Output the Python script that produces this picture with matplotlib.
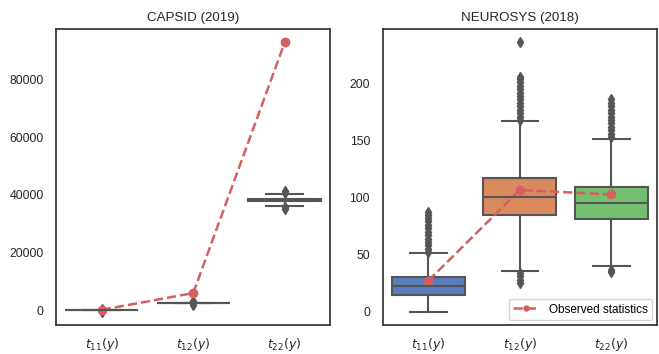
import colorsys
import numpy as np
import matplotlib
matplotlib.use("Agg")
import matplotlib.pyplot as plt
from matplotlib.colors import to_rgb

plt.rcParams['font.family'] = ['Liberation Sans', 'DejaVu Sans']

labels = [r'$t_{11}(y)$', r'$t_{12}(y)$', r'$t_{22}(y)$']
box_colors = ['#4878D0', '#EE854A', '#6ACC64']
obs_color = '#D65F5F'
line_gray = '#555555'

# CAPSID (2019) box summaries
capsid_q1 = [0, 2350, 37800]
capsid_med = [0, 2450, 38200]
capsid_q3 = [100, 2550, 38600]
capsid_lo = [0, 2300, 36200]
capsid_hi = [200, 2600, 40400]
capsid_fliers = [[-500, 0, 500],
                 [1800, 2500, 3200],
                 [35000, 35600, 40700, 41200]]
capsid_obs = [100, 5900, 92800]

# NEUROSYS (2018) box summaries
neuro_q1 = [14.6, 84.6, 81.3]
neuro_med = [22, 100.7, 94.8]
neuro_q3 = [30, 117.4, 109.3]
neuro_lo = [0, 35.8, 39.9]
neuro_hi = [51, 166.8, 151.5]
neuro_fliers = [[52, 55, 58, 61, 64, 67, 70, 73, 76, 79, 82, 85, 87],
                [25, 28, 31, 34, 168, 171, 174, 177, 180, 183, 186, 189,
                 192, 195, 198, 201, 204, 206, 236],
                [35, 36, 153, 156, 159, 162, 165, 168, 171, 174, 177, 180,
                 183, 186]]
neuro_obs = [27, 106.6, 102.7]


def desat(c, prop=0.75):
    h, l, s = colorsys.rgb_to_hls(*to_rgb(c))
    return colorsys.hls_to_rgb(h, l, s * prop)


def draw(ax, q1, med, q3, lo, hi, fliers, obs, title, legend=False):
    stats = []
    for i in range(3):
        stats.append(dict(q1=q1[i], med=med[i], q3=q3[i], whislo=lo[i],
                          whishi=hi[i], fliers=fliers[i]))
    bp = ax.bxp(stats, positions=range(3), widths=0.8, patch_artist=True,
                showfliers=True,
                boxprops=dict(edgecolor=line_gray, linewidth=1.5),
                medianprops=dict(color=line_gray, linewidth=1.5),
                whiskerprops=dict(color=line_gray, linewidth=1.5),
                capprops=dict(color=line_gray, linewidth=1.5),
                flierprops=dict(marker='d', markersize=5,
                                markerfacecolor=line_gray,
                                markeredgecolor=line_gray))
    for patch, c in zip(bp['boxes'], box_colors):
        patch.set_facecolor(desat(c))
    for cap in bp['caps']:
        x = cap.get_xdata()
        m = x.mean()
        cap.set_xdata([m - 0.2, m + 0.2])
    ax.plot(range(3), obs, '--o', color=obs_color, lw=1.8, ms=6,
            label='Observed statistics')
    ax.set_xlim(-0.5, 2.5)
    ax.set_xticks(range(3))
    ax.set_xticklabels(labels, fontsize=9)
    ax.tick_params(axis='y', labelsize=8.8, length=0, pad=9, colors='#262626')
    ax.tick_params(axis='x', length=0, pad=8, colors='#262626')
    ax.set_title(title, fontsize=9.6, color='#262626')
    for s in ax.spines.values():
        s.set_color('#333333')
        s.set_linewidth(1.25)
    if legend:
        leg = ax.legend(loc='lower right', fontsize=8.5, markerscale=0.6,
                        handlelength=2.2, borderaxespad=0.4)
        leg.get_frame().set_edgecolor('#cccccc')


fig, (ax1, ax2) = plt.subplots(1, 2, figsize=(6.59, 3.54), dpi=100)
fig.subplots_adjust(left=0.085, right=0.997, bottom=0.082, top=0.918,
                    wspace=0.19)
draw(ax1, capsid_q1, capsid_med, capsid_q3, capsid_lo, capsid_hi,
     capsid_fliers, capsid_obs, 'CAPSID (2019)')
draw(ax2, neuro_q1, neuro_med, neuro_q3, neuro_lo, neuro_hi,
     neuro_fliers, neuro_obs, 'NEUROSYS (2018)', legend=True)
fig.savefig('out.png', dpi=100)
